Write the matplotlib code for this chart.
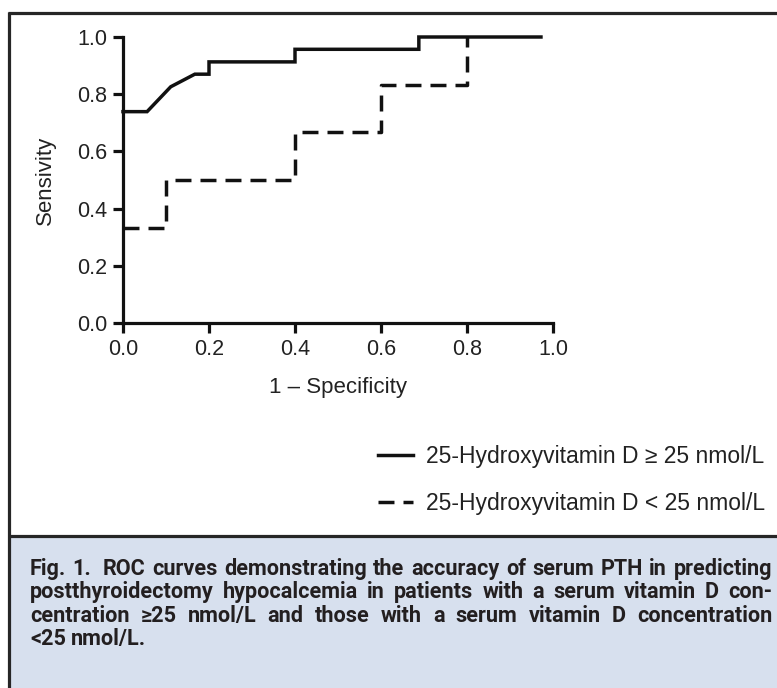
import matplotlib
matplotlib.use('Agg')
import matplotlib.pyplot as plt
from matplotlib import font_manager
from matplotlib.lines import Line2D
from matplotlib.patches import Rectangle

W, H = 777, 688
DPI = 100

# ---------------- data ----------------
fpr_high = [0.0, 0.056, 0.111, 0.167, 0.2, 0.2, 0.4, 0.4, 0.688, 0.688, 0.972]
tpr_high = [0.739, 0.739, 0.826, 0.870, 0.870, 0.913, 0.913, 0.957, 0.957, 1.0, 1.0]
fpr_low = [0.0, 0.1, 0.1, 0.4, 0.4, 0.6, 0.6, 0.8, 0.8]
tpr_low = [0.333, 0.333, 0.5, 0.5, 0.667, 0.667, 0.833, 0.833, 1.0]
x_ticks = [0.0, 0.2, 0.4, 0.6, 0.8, 1.0]
y_ticks = [0.0, 0.2, 0.4, 0.6, 0.8, 1.0]
legend_labels = ['25-Hydroxyvitamin D \u2265 25 nmol/L',
                 '25-Hydroxyvitamin D < 25 nmol/L']
x_label = '1 \u2013 Specificity'
y_label = 'Sensivity'
caption_bold = 'Fig. 1.'
caption_lines = [
    'ROC curves demonstrating the accuracy of serum PTH in predicting',
    'postthyroidectomy hypocalcemia in patients with a serum vitamin D con-',
    'centration \u226525 nmol/L and those with a serum vitamin D concentration',
    '<25 nmol/L.',
]

# ---------------- fonts ----------------
names = {f.name for f in font_manager.fontManager.ttflist}
def pick(cands):
    for c in cands:
        if c in names:
            return c
    return 'DejaVu Sans'
plot_font = [pick(['Liberation Sans', 'Arial', 'DejaVu Sans']), 'DejaVu Sans']
cap_font = [pick(['Roboto', 'Lato', 'Open Sans', 'DejaVu Sans']), 'DejaVu Sans']
plt.rcParams['font.family'] = plot_font

def fx(x):
    return x / W
def fy(y):
    return 1 - y / H

fig = plt.figure(figsize=(W / DPI, H / DPI), dpi=DPI)
fig.patch.set_facecolor('white')

# caption background and frame
fig.add_artist(Rectangle((fx(10), 0), 1 - fx(10), fy(537), transform=fig.transFigure,
                         facecolor='#D7E0EE', edgecolor='none', zorder=0))
frame_kw = dict(transform=fig.transFigure, color='#262626', lw=2.3, zorder=5,
                solid_capstyle='butt')
fig.add_artist(Line2D([fx(8), 1], [fy(13), fy(13)], **frame_kw))
fig.add_artist(Line2D([fx(9), fx(9)], [fy(12), 0], **frame_kw))
fig.add_artist(Line2D([fx(8), 1], [fy(536), fy(536)], **frame_kw))

# ---------------- axes ----------------
ax = fig.add_axes([fx(123), fy(323), fx(553) - fx(123), fy(37) - fy(323)])
ax.set_facecolor('none')
ax.set_xlim(0, 1)
ax.set_ylim(0, 1)
for s in ['top', 'right']:
    ax.spines[s].set_visible(False)
for s in ['left', 'bottom']:
    ax.spines[s].set_linewidth(2.3)
    ax.spines[s].set_color('#111111')
    ax.spines[s].set_capstyle('projecting')

l1, = ax.plot(fpr_high, tpr_high, color='#111111', lw=2.5, clip_on=False,
              solid_joinstyle='miter', zorder=3)
l2, = ax.plot(fpr_low, tpr_low, color='#111111', lw=2.5, clip_on=False,
              dashes=(4.6, 2.6), zorder=3)

ax.set_xticks(x_ticks)
ax.set_yticks(y_ticks)
ax.set_xticklabels([f'{v:.1f}' for v in x_ticks])
ax.set_yticklabels([f'{v:.1f}' for v in y_ticks])
ax.tick_params(axis='both', direction='out', length=7.5, width=2.3, color='#111111',
               labelsize=15.5, labelcolor='#222222')
ax.tick_params(axis='x', pad=4)
ax.tick_params(axis='y', pad=4)
ax.set_xlabel(x_label, fontsize=16, color='#222222', labelpad=12)
ax.set_ylabel(y_label, fontsize=16, color='#222222', labelpad=15)

# ---------------- legend ----------------
leg = fig.legend([l1, l2], legend_labels, loc='upper left',
                 bbox_to_anchor=(fx(378), fy(445)), frameon=False,
                 fontsize=16.5, handlelength=1.53, handletextpad=0.58,
                 labelspacing=1.05, borderpad=0, borderaxespad=0)
for t in leg.get_texts():
    t.set_color('#222222')

# ---------------- caption (justified) ----------------
renderer = fig.canvas.get_renderer()
cap_color = '#231F20'
x0, x1 = 30, 772
baselines = [575, 598, 622, 645]

def measure(s, size, wt):
    t = fig.text(0, 0, s, fontsize=size, fontweight=wt, family=cap_font)
    w = t.get_window_extent(renderer).width
    t.remove()
    return w

# choose size so the first line fills the column with ordinary spaces
base = 13.0
wb = measure(caption_bold + '  ', base, 'bold') + measure(caption_lines[0], base, 'semibold')
cap_size = base * (x1 - x0) / wb * 0.985

def place(words, y, justify):
    texts, widths = [], []
    for w, wt in words:
        t = fig.text(0, 0, w, fontsize=cap_size, fontweight=wt, family=cap_font,
                     color=cap_color, ha='left', va='baseline', zorder=6)
        texts.append(t)
        widths.append(t.get_window_extent(renderer).width)
    if justify and len(words) > 1:
        weights = [1.8 if words[i][0] == '1.' else 1.0 for i in range(len(words) - 1)]
        gap_unit = (x1 - x0 - sum(widths)) / sum(weights)
        gaps = [g * gap_unit for g in weights]
    else:
        spw = measure('a a', cap_size, 'semibold') - measure('aa', cap_size, 'semibold')
        gaps = [spw] * (len(words) - 1)
    x = x0
    for i, (t, w) in enumerate(zip(texts, widths)):
        t.set_position((fx(x), fy(y)))
        if i < len(gaps):
            x += w + gaps[i]

for i, line in enumerate(caption_lines):
    words = [(w, 'semibold') for w in line.split()]
    if i == 0:
        words = [(w, 'bold') for w in caption_bold.split()] + words
    place(words, baselines[i], justify=(i < len(caption_lines) - 1))

fig.savefig('out.png', dpi=DPI, facecolor='white')
